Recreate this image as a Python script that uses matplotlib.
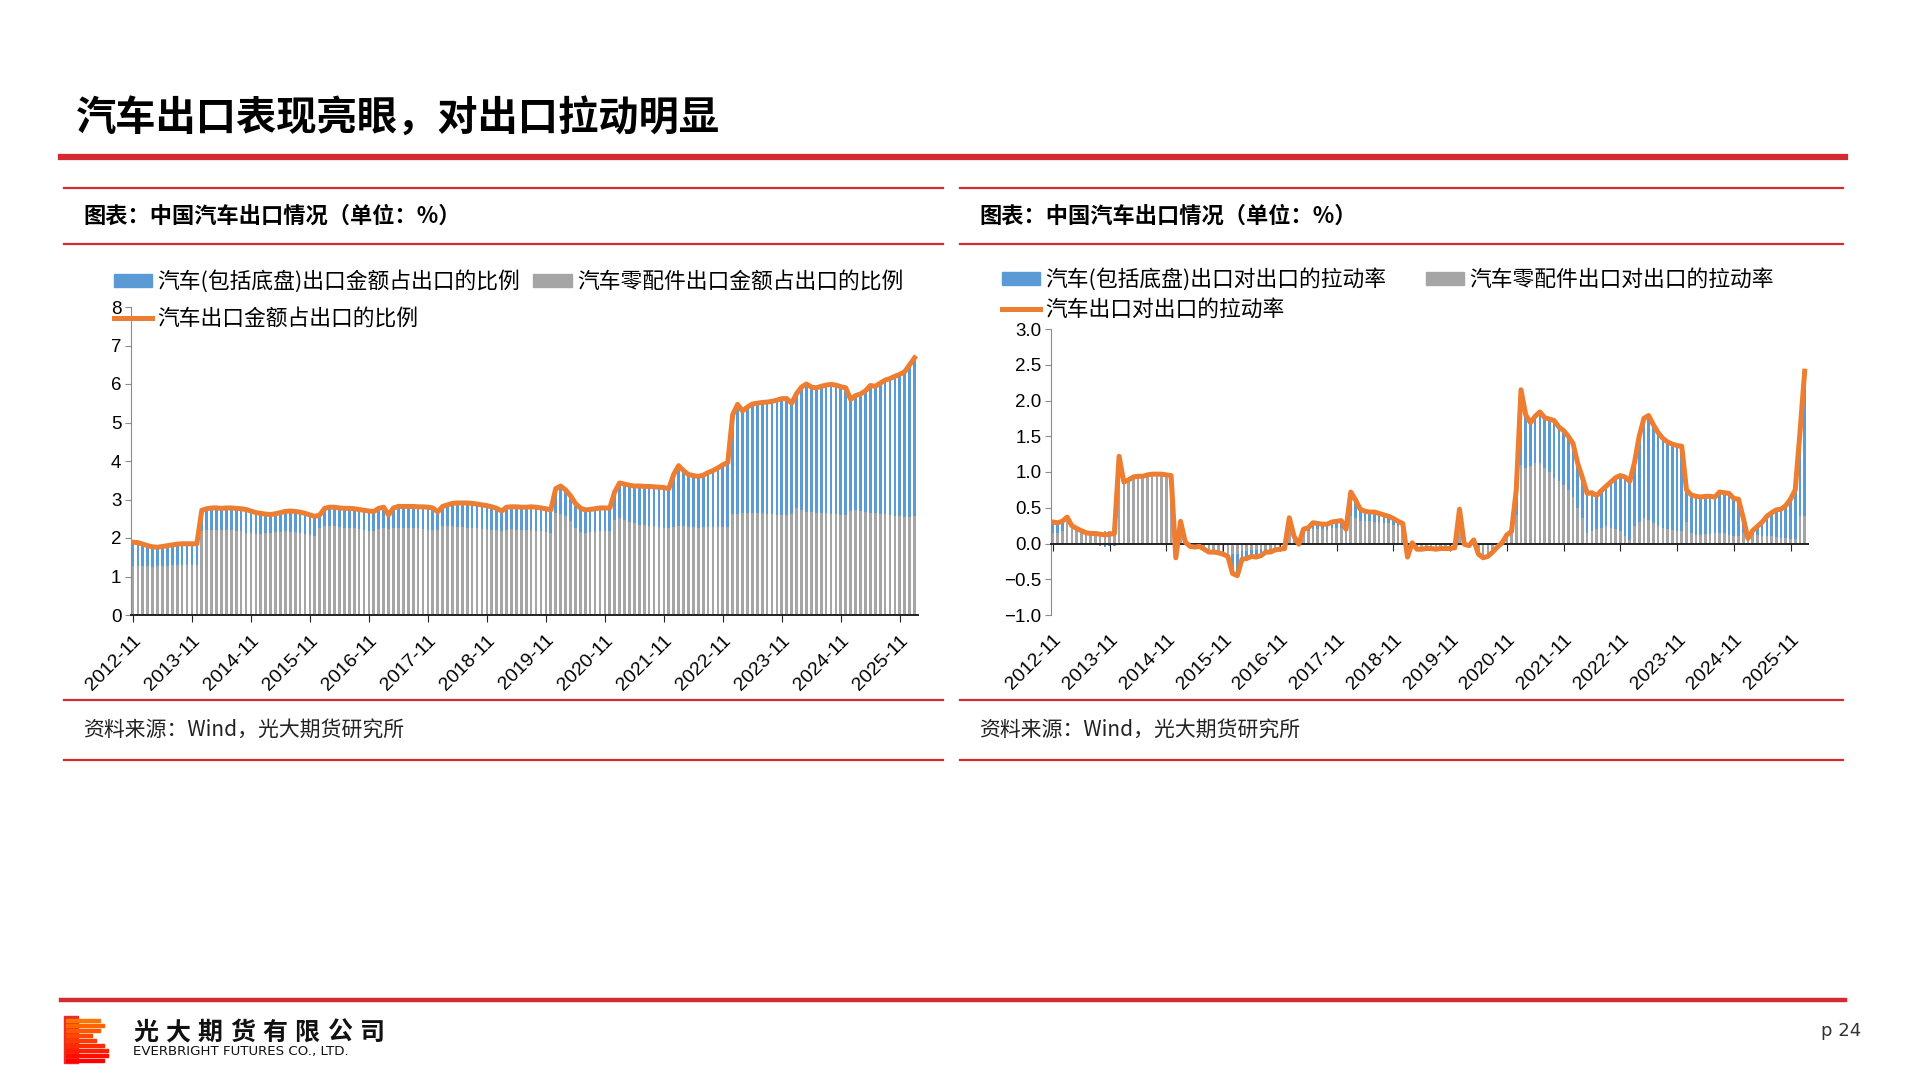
import numpy as np
import matplotlib.pyplot as plt
from matplotlib import font_manager
from matplotlib.patches import Rectangle, Patch
from matplotlib.lines import Line2D

plt.rcParams['font.family'] = ['Noto Sans CJK SC', 'DejaVu Sans']
plt.rcParams['axes.unicode_minus'] = True

installed = {f.name for f in font_manager.fontManager.ttflist}
num_font = 'Liberation Sans Narrow' if 'Liberation Sans Narrow' in installed else 'Liberation Sans'

# monthly data, 2012-11 .. 2026-02
tick_labels = ['2012-11', '2013-11', '2014-11', '2015-11', '2016-11', '2017-11', '2018-11',
               '2019-11', '2020-11', '2021-11', '2022-11', '2023-11', '2024-11', '2025-11']

# left chart: share of total exports (%)
share_total = [1.89, 1.88,
               1.84, 1.80, 1.77, 1.76, 1.78, 1.80, 1.82, 1.84, 1.85, 1.85, 1.85, 1.85,
               2.72, 2.76, 2.78, 2.78, 2.77, 2.78, 2.78, 2.77, 2.76, 2.74, 2.70, 2.66,
               2.64, 2.62, 2.61, 2.63, 2.66, 2.69, 2.70, 2.69, 2.67, 2.64, 2.60, 2.56,
               2.60, 2.77, 2.80, 2.80, 2.78, 2.77, 2.77, 2.76, 2.74, 2.72, 2.70, 2.69,
               2.77, 2.80, 2.60, 2.78, 2.82, 2.82, 2.82, 2.82, 2.81, 2.81, 2.80, 2.78,
               2.68, 2.82, 2.86, 2.90, 2.91, 2.91, 2.91, 2.90, 2.88, 2.86, 2.84, 2.81,
               2.77, 2.70, 2.80, 2.81, 2.81, 2.80, 2.80, 2.81, 2.80, 2.78, 2.76, 2.73,
               3.28, 3.35, 3.25, 3.10, 2.90, 2.78, 2.73, 2.74, 2.76, 2.78, 2.78, 2.78,
               3.20, 3.43, 3.40, 3.37, 3.35, 3.35, 3.34, 3.34, 3.33, 3.32, 3.31, 3.28,
               3.65, 3.88, 3.75, 3.65, 3.62, 3.60, 3.63, 3.70, 3.75, 3.82, 3.90, 3.96,
               5.20, 5.47, 5.30, 5.40, 5.48, 5.50, 5.52, 5.53, 5.55, 5.58, 5.62, 5.62,
               5.50, 5.75, 5.92, 6.00, 5.92, 5.90, 5.94, 5.97, 5.99, 5.97, 5.93, 5.90,
               5.60, 5.70, 5.74, 5.82, 5.96, 5.94, 6.02, 6.10, 6.14, 6.20, 6.25, 6.32,
               6.50, 6.68]
share_parts = [1.26, 1.26,
               1.27, 1.27, 1.25, 1.26, 1.27, 1.28, 1.29, 1.30, 1.30, 1.30, 1.30, 1.30,
               2.18, 2.20, 2.21, 2.22, 2.21, 2.21, 2.20, 2.19, 2.17, 2.14, 2.12, 2.11,
               2.11, 2.12, 2.13, 2.15, 2.16, 2.17, 2.16, 2.15, 2.13, 2.10, 2.08, 2.06,
               2.25, 2.31, 2.32, 2.30, 2.28, 2.27, 2.26, 2.25, 2.23, 2.21, 2.19, 2.18,
               2.24, 2.27, 2.24, 2.26, 2.27, 2.27, 2.27, 2.26, 2.25, 2.24, 2.22, 2.21,
               2.20, 2.31, 2.32, 2.30, 2.29, 2.28, 2.27, 2.26, 2.25, 2.24, 2.23, 2.22,
               2.21, 2.18, 2.22, 2.23, 2.22, 2.22, 2.21, 2.20, 2.19, 2.17, 2.15, 2.13,
               2.66, 2.62, 2.57, 2.45, 2.25, 2.15, 2.14, 2.15, 2.16, 2.17, 2.18, 2.19,
               2.48, 2.52, 2.46, 2.42, 2.38, 2.35, 2.33, 2.31, 2.30, 2.28, 2.26, 2.25,
               2.28, 2.30, 2.30, 2.29, 2.28, 2.27, 2.28, 2.28, 2.29, 2.29, 2.28, 2.28,
               2.62, 2.63, 2.64, 2.65, 2.65, 2.64, 2.64, 2.63, 2.62, 2.61, 2.60, 2.60,
               2.62, 2.77, 2.72, 2.68, 2.67, 2.66, 2.65, 2.64, 2.63, 2.62, 2.61, 2.60,
               2.70, 2.72, 2.71, 2.68, 2.66, 2.64, 2.63, 2.62, 2.60, 2.58, 2.56, 2.55,
               2.55, 2.56]

# right chart: pull on export growth (pct points)
pull_total = [0.30, 0.29,
              0.31, 0.37, 0.25, 0.21, 0.18, 0.15, 0.14, 0.14, 0.13, 0.12, 0.13, 0.14,
              1.22, 0.86, 0.89, 0.93, 0.94, 0.94, 0.96, 0.97, 0.97, 0.97, 0.96, 0.95,
              -0.20, 0.31, 0.02, -0.04, -0.05, -0.04, -0.08, -0.12, -0.12, -0.13, -0.15, -0.18,
              -0.42, -0.45, -0.22, -0.21, -0.18, -0.19, -0.17, -0.12, -0.12, -0.09, -0.08, -0.07,
              0.36, 0.10, -0.01, 0.20, 0.22, 0.29, 0.28, 0.27, 0.27, 0.30, 0.31, 0.32,
              0.20, 0.72, 0.61, 0.48, 0.45, 0.44, 0.44, 0.42, 0.40, 0.38, 0.35, 0.31,
              0.28, -0.19, 0.01, -0.08, -0.08, -0.07, -0.07, -0.08, -0.07, -0.07, -0.07, -0.06,
              0.48, -0.01, -0.03, 0.05, -0.15, -0.20, -0.18, -0.12, -0.05, 0.01, 0.12, 0.17,
              0.75, 2.15, 1.80, 1.69, 1.78, 1.84, 1.76, 1.74, 1.72, 1.63, 1.58, 1.50,
              1.40, 1.12, 0.92, 0.70, 0.71, 0.67, 0.74, 0.80, 0.86, 0.92, 0.95, 0.93,
              0.87, 1.13, 1.50, 1.75, 1.79, 1.66, 1.55, 1.47, 1.42, 1.39, 1.37, 1.36,
              0.75, 0.68, 0.66, 0.65, 0.66, 0.66, 0.65, 0.72, 0.71, 0.70, 0.63, 0.62,
              0.36, 0.07, 0.18, 0.24, 0.30, 0.38, 0.43, 0.47, 0.48, 0.53, 0.62, 0.75,
              1.55, 2.41]
pull_parts = [0.15, 0.15,
              0.17, 0.35, 0.24, 0.21, 0.18, 0.15, 0.15, 0.16, 0.16, 0.17, 0.17, 0.17,
              1.20, 0.85, 0.88, 0.92, 0.93, 0.93, 0.95, 0.96, 0.96, 0.96, 0.95, 0.94,
              -0.18, 0.30, 0.02, -0.04, -0.05, -0.04, -0.07, -0.10, -0.10, -0.11, -0.12, -0.14,
              -0.15, -0.15, -0.10, -0.10, -0.09, -0.09, -0.08, -0.07, -0.07, -0.06, -0.06, -0.05,
              0.30, 0.10, 0.00, 0.17, 0.17, 0.20, 0.20, 0.20, 0.19, 0.21, 0.22, 0.22,
              0.18, 0.38, 0.36, 0.32, 0.31, 0.31, 0.30, 0.30, 0.29, 0.28, 0.26, 0.24,
              0.22, -0.18, 0.01, -0.07, -0.07, -0.06, -0.06, -0.07, -0.06, -0.06, -0.06, -0.05,
              0.45, 0.00, -0.02, 0.04, -0.13, -0.18, -0.16, -0.10, -0.04, 0.01, 0.10, 0.14,
              0.40, 1.10, 1.05, 1.08, 1.12, 1.13, 1.05, 1.00, 0.92, 0.88, 0.82, 0.75,
              0.65, 0.50, 0.35, 0.15, 0.18, 0.20, 0.22, 0.24, 0.22, 0.20, 0.18, 0.10,
              0.05, 0.25, 0.30, 0.35, 0.33, 0.28, 0.25, 0.22, 0.20, 0.19, 0.18, 0.18,
              0.30, 0.15, 0.12, 0.12, 0.13, 0.13, 0.14, 0.15, 0.14, 0.12, 0.10, 0.10,
              0.15, 0.05, 0.12, 0.12, 0.11, 0.10, 0.10, 0.09, 0.08, 0.07, 0.06, 0.06,
              0.38, 0.39]

BLUE = '#5B9BD5'
GRAY = '#A5A5A5'
ORANGE = '#ED7D31'
RED = '#D42A32'

share_total = np.array(share_total)
share_parts = np.array(share_parts)
share_auto = share_total - share_parts
pull_total = np.array(pull_total)
pull_parts = np.array(pull_parts)
pull_auto = pull_total - pull_parts
x = np.arange(len(share_total))
tick_pos = np.arange(len(tick_labels)) * 12

W, H = 1920, 1080
fig = plt.figure(figsize=(19.2, 10.8), dpi=100)


def fx(px):
    return px / W


def fy(py):
    return 1 - py / H


def hline(x0, x1, y, lw, color=RED):
    fig.add_artist(Line2D([fx(x0), fx(x1)], [fy(y), fy(y)], lw=lw, color=color,
                          transform=fig.transFigure))


# page header
fig.text(fx(76), fy(119), '汽车出口表现亮眼，对出口拉动明显', fontsize=29, fontweight='bold',
         va='center', ha='left')
hline(61, 1845, 157, 4.5)

# panel frames
for x0, x1 in [(64, 943), (960, 1843)]:
    hline(x0, x1, 188, 1.6)
    hline(x0, x1, 244, 1.6)
    hline(x0, x1, 700, 1.6)
    hline(x0, x1, 760, 1.6)
    fig.text(fx(x0 + 19), fy(216), '图表：中国汽车出口情况（单位：%）', fontsize=16,
             fontweight='bold', va='center')
    fig.text(fx(x0 + 19), fy(730), '资料来源：Wind，光大期货研究所', fontsize=15,
             style='italic', va='center', color='#222222')


def style_axis(ax):
    for s in ['top', 'right']:
        ax.spines[s].set_visible(False)
    ax.spines['left'].set_color('#8C8C8C')
    ax.spines['bottom'].set_color('#222222')
    ax.spines['bottom'].set_linewidth(1.4)
    ax.tick_params(axis='y', direction='out', length=4, color='#8C8C8C',
                   labelsize=13.5, pad=3)
    ax.tick_params(axis='x', direction='out', length=5, color='#222222', labelsize=14)
    ax.set_xticks(tick_pos)
    ax.set_xticklabels(tick_labels, rotation=45, ha='right', rotation_mode='anchor',
                       family=num_font)
    for lab in ax.get_yticklabels():
        lab.set_family(num_font)
    ax.set_xlim(-0.4, len(x) - 0.3)


# left chart
ax1 = fig.add_axes([fx(131), fy(615), fx(918 - 131), (615 - 307) / H])
ax1.bar(x, share_parts, width=0.55, color=GRAY, linewidth=0)
ax1.bar(x, share_auto, bottom=share_parts, width=0.55, color=BLUE, linewidth=0)
ax1.plot(x, share_total, color=ORANGE, lw=3.6, solid_joinstyle='round', zorder=3)
ax1.set_ylim(0, 8)
ax1.set_yticks(range(0, 9))
style_axis(ax1)
ax1.tick_params(axis='x', pad=7)

# right chart
ax2 = fig.add_axes([fx(1051), fy(615), fx(1808 - 1051), (615 - 329) / H])
auto_bottom = np.where(np.sign(pull_auto) == np.sign(pull_parts), pull_parts, 0)
ax2.bar(x, pull_parts, width=0.55, color=GRAY, linewidth=0)
ax2.bar(x, pull_auto, bottom=auto_bottom, width=0.55, color=BLUE, linewidth=0)
ax2.plot(x, pull_total, color=ORANGE, lw=3.6, solid_joinstyle='round', zorder=3)
ax2.set_ylim(-1.0, 3.0)
ax2.spines['bottom'].set_position(('data', 0))
ax2.set_yticks(np.arange(-1.0, 3.01, 0.5))
ax2.set_yticklabels([f'{v:.1f}'.replace('-', '\u2212') for v in np.arange(-1.0, 3.01, 0.5)])
style_axis(ax2)
ax2.tick_params(axis='x', pad=58)

# legends
leg_kw = dict(loc='upper left', frameon=False, fontsize=15.7, ncol=2, handlelength=1.75,
              handleheight=0.55, handletextpad=0.25, borderpad=0, borderaxespad=0)
fig.legend([Patch(color=BLUE), Line2D([], [], color=ORANGE, lw=3.6), Patch(color=GRAY)],
           ['汽车(包括底盘)出口金额占出口的比例', '汽车出口金额占出口的比例',
            '汽车零配件出口金额占出口的比例'],
           bbox_to_anchor=(fx(114), fy(270)), columnspacing=0.6, labelspacing=0.7, **leg_kw)
fig.legend([Patch(color=BLUE), Line2D([], [], color=ORANGE, lw=3.6), Patch(color=GRAY)],
           ['汽车(包括底盘)出口对出口的拉动率', '汽车出口对出口的拉动率',
            '汽车零配件出口对出口的拉动率'],
           bbox_to_anchor=(fx(1002), fy(268)), columnspacing=1.8, labelspacing=0.38, **leg_kw)

# footer
hline(61, 1845, 1000, 3.2)
stripes = [(0, 100), (5, 104), (10, 100), (15, 92), (20, 96), (25, 104), (30, 108),
           (35, 108), (40, 104)]
cols = plt.cm.autumn_r(np.linspace(0.55, 1.0, len(stripes)))
fig.add_artist(Rectangle((fx(64), fy(1063)), fx(14), 47 / H, color='#E5302A',
                         transform=fig.transFigure))
for (dy, xe), c in zip(stripes, cols):
    fig.add_artist(Rectangle((fx(66), fy(1019 + dy + 3)), fx(xe - 66), 3 / H,
                             color=c, transform=fig.transFigure))
for i, ch in enumerate('光大期货有限公司'):
    fig.text(fx(133 + 32.3 * i), fy(1033), ch, fontsize=18, fontweight='bold',
             va='center', ha='left', color='#111111')
fig.text(fx(133), fy(1052), 'EVERBRIGHT FUTURES CO., LTD.', fontsize=9.6,
         family='DejaVu Sans', va='center', ha='left', color='#111111')
fig.text(fx(1821), fy(1031), 'p 24', fontsize=13, family='DejaVu Sans', va='center',
         color='#333333')

fig.savefig('out.png', dpi=100)
